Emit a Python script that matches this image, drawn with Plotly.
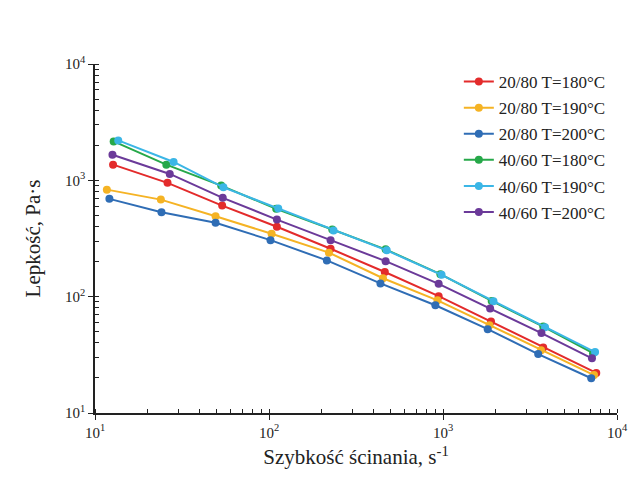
import plotly.graph_objects as go

# Shear rate values (s^-1) per series and viscosity (Pa·s)
names = ["20/80 T=180°C", "20/80 T=190°C", "20/80 T=200°C",
         "40/60 T=180°C", "40/60 T=190°C", "40/60 T=200°C"]
colors = ["#e32b2b", "#f5b324", "#2f6db5", "#26a849", "#3bb6e6", "#6b3a99"]

x_20_80_180 = [12.7, 26.1, 53.8, 111, 226, 463, 944, 1888, 3767, 7600]
y_20_80_180 = [1364, 951, 607, 399, 258, 163, 101, 61.2, 36.6, 22.1]

x_20_80_190 = [11.7, 23.9, 49.3, 103.5, 221, 452, 930, 1849, 3660, 7380]
y_20_80_190 = [832, 683, 492, 347, 239, 144, 93, 56.9, 34.7, 21.2]

x_20_80_200 = [12.1, 24.1, 49.3, 102, 215, 437, 904, 1807, 3524, 7110]
y_20_80_200 = [693, 532, 432, 306, 205, 130, 84.4, 52.6, 32.1, 19.9]

x_40_60_180 = [12.8, 25.7, 53.1, 110, 231, 468, 966, 1905, 3767, 7280]
y_40_60_180 = [2160, 1364, 901, 569, 378, 255, 156, 91.9, 55.4, 32.7]

x_40_60_190 = [13.6, 28.3, 54.7, 113, 235, 475, 981, 1950, 3860, 7480]
y_40_60_190 = [2203, 1438, 871, 572, 371, 250, 154, 91.4, 54.7, 33.4]

x_40_60_200 = [12.6, 26.9, 54.2, 111, 226, 468, 944, 1866, 3680, 7180]
y_40_60_200 = [1660, 1135, 707, 460, 306, 202, 129, 79.1, 48.6, 29.5]

xs = [x_20_80_180, x_20_80_190, x_20_80_200, x_40_60_180, x_40_60_190, x_40_60_200]
ys = [y_20_80_180, y_20_80_190, y_20_80_200, y_40_60_180, y_40_60_190, y_40_60_200]

tick_vals = [10, 100, 1000, 10000]
tick_text = ["10<sup>1</sup>", "10<sup>2</sup>", "10<sup>3</sup>", "10<sup>4</sup>"]

FONT = "Liberation Serif"
INK = "#222222"

fig = go.Figure()
for name, c, x, y in zip(names, colors, xs, ys):
    fig.add_trace(go.Scatter(
        x=x, y=y, name=name, mode="lines+markers",
        line=dict(color=c, width=2),
        marker=dict(color=c, size=8, symbol="circle"),
        legendgroup=name,
    ))

axis_common = dict(
    type="log", tickmode="array", tickvals=tick_vals, ticktext=tick_text,
    showline=True, linecolor=INK, linewidth=1.5, showgrid=False, zeroline=False,
    ticks="outside", ticklen=5, tickwidth=1.2, tickcolor=INK,
    minor=dict(ticks="inside", ticklen=4, tickwidth=1, tickcolor=INK, showgrid=False, dtick="D1"),
    tickfont=dict(family=FONT, size=15, color=INK),
    mirror=False,
)

fig.update_layout(
    width=640, height=480,
    margin=dict(l=95, r=21, t=64, b=67),
    paper_bgcolor="white", plot_bgcolor="white",
    font=dict(family=FONT, color=INK),
    xaxis=dict(range=[1, 4], title=dict(text="Szybkość ścinania, s<sup>-1</sup>",
               font=dict(family=FONT, size=21, color=INK), standoff=10), **axis_common),
    yaxis=dict(range=[1, 4], title=dict(text="Lepkość, Pa·s",
               font=dict(family=FONT, size=21, color=INK), standoff=19), **axis_common),
    legend=dict(x=0.697, y=1.0, xanchor="left", yanchor="top",
                font=dict(family=FONT, size=17, color=INK),
                bgcolor="rgba(0,0,0,0)", tracegroupgap=1, itemwidth=30),
    showlegend=True,
)

fig.write_html("out.html")
